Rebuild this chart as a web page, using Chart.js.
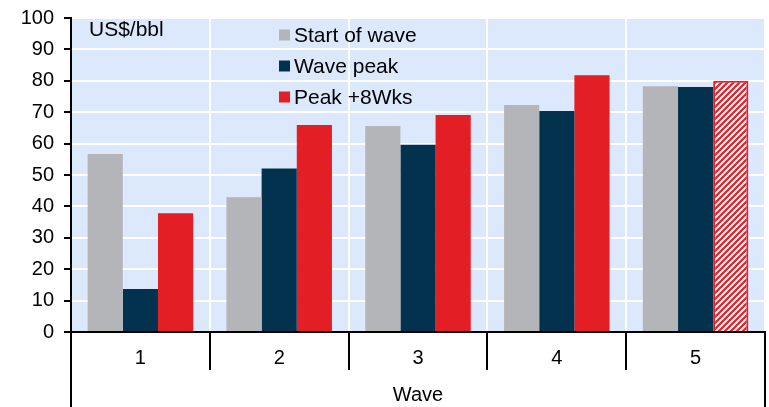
<!DOCTYPE html>
<html>
<head>
<meta charset="utf-8">
<script src="https://cdn.jsdelivr.net/npm/chart.js@4"></script>
<style>
  html, body { margin: 0; padding: 0; background: #ffffff; }
  #wrap { width: 769px; height: 407px; }
</style>
</head>
<body>
<div id="wrap"><canvas id="c" width="769" height="407"></canvas></div>
<script>
const categories = ['1', '2', '3', '4', '5'];
const startOfWave = [56.7, 42.9, 65.6, 72.3, 78.3];
const wavePeak = [13.7, 52.1, 59.6, 70.4, 78.0];
const peakPlus8 = [37.8, 65.9, 69.1, 81.8, 80.0];
const seriesLabels = ['Start of wave', 'Wave peak', 'Peak +8Wks'];
const yTicks = [0, 10, 20, 30, 40, 50, 60, 70, 80, 90, 100];
const unitLabel = 'US$/bbl';
const xTitle = 'Wave';

const FONT = "'Liberation Sans', Arial, sans-serif";
const GRAY = '#b4b5b9', NAVY = '#02324e', RED = '#e31e25';

function hatch() {
  const p = document.createElement('canvas');
  p.width = 6; p.height = 6;
  const g = p.getContext('2d');
  g.fillStyle = '#ffffff'; g.fillRect(0, 0, 6, 6);
  g.strokeStyle = RED; g.lineWidth = 2.2;
  g.beginPath();
  g.moveTo(-3, 9); g.lineTo(9, -3);
  g.moveTo(-3, 3); g.lineTo(3, -3);
  g.moveTo(3, 9); g.lineTo(9, 3);
  g.stroke();
  return g.createPattern(p, 'repeat');
}
const hatchPat = hatch();
const redFills = peakPlus8.map((v, i) => i === peakPlus8.length - 1 ? hatchPat : RED);
const redBorders = peakPlus8.map((v, i) => i === peakPlus8.length - 1 ? 2 : 0);

const decor = {
  id: 'decor',
  beforeDraw(chart) {
    const {ctx, chartArea: a} = chart;
    ctx.save();
    ctx.fillStyle = '#dce8fb';
    ctx.fillRect(a.left, a.top, a.right - a.left, a.bottom - a.top);
    ctx.restore();
  },
  afterDraw(chart) {
    const {ctx, chartArea: a} = chart;
    const xs = chart.scales.x;
    const n = categories.length;
    const w = (xs.right - xs.left) / n;
    ctx.save();
    ctx.strokeStyle = '#000000';
    ctx.lineWidth = 2;
    for (let i = 0; i <= n; i++) {
      const x = Math.round(xs.left + i * w);
      const end = (i === 0 || i === n) ? chart.height : a.bottom + 38;
      ctx.beginPath();
      ctx.moveTo(x, a.bottom);
      ctx.lineTo(x, end);
      ctx.stroke();
    }
    // unit label
    ctx.fillStyle = '#000000';
    ctx.font = '21px ' + FONT;
    ctx.textBaseline = 'middle';
    ctx.textAlign = 'left';
    ctx.fillText(unitLabel, a.left + 18, a.top + 12);
    // legend
    const colors = [GRAY, NAVY, RED];
    const lx = a.left + 208, ly = a.top + 17;
    for (let i = 0; i < seriesLabels.length; i++) {
      const cy = ly + i * 31;
      ctx.fillStyle = colors[i];
      ctx.fillRect(lx, cy - 5.5, 11, 11);
      ctx.fillStyle = '#000000';
      ctx.fillText(seriesLabels[i], lx + 15, cy + 1);
    }
    ctx.restore();
  }
};

new Chart(document.getElementById('c'), {
  type: 'bar',
  data: {
    labels: categories,
    datasets: [
      { label: seriesLabels[0], data: startOfWave, backgroundColor: GRAY },
      { label: seriesLabels[1], data: wavePeak, backgroundColor: NAVY },
      { label: seriesLabels[2], data: peakPlus8, backgroundColor: redFills, borderColor: RED, borderWidth: redBorders }
    ]
  },
  plugins: [decor],
  options: {
    responsive: false,
    animation: false,
    devicePixelRatio: 1,
    layout: { padding: { top: 18, right: 4, left: 0, bottom: 0 } },
    datasets: { bar: { categoryPercentage: 0.76, barPercentage: 1.0 } },
    plugins: { legend: { display: false }, tooltip: { enabled: false }, title: { display: false } },
    scales: {
      x: {
        afterFit(s) { s.height = 75; s.paddingLeft = 0; s.paddingRight = 0; },
        grid: { offset: true, color: '#ffffff', lineWidth: 2, drawTicks: false },
        border: { display: true, color: '#000000', width: 2 },
        ticks: { color: '#000000', font: { family: FONT, size: 20 }, padding: 14, maxRotation: 0 },
        title: { display: true, text: xTitle, color: '#000000', font: { family: FONT, size: 20 }, padding: { top: 0, bottom: 0 } }
      },
      y: {
        min: 0, max: 100,
        afterFit(s) { s.width = 71; s.paddingTop = 0; s.paddingBottom = 0; },
        afterBuildTicks(s) { s.ticks = yTicks.map(v => ({ value: v })); },
        grid: { color: '#ffffff', lineWidth: 2, tickColor: '#000000', tickLength: 7, tickWidth: 2 },
        border: { display: true, color: '#000000', width: 2 },
        ticks: { color: '#000000', font: { family: FONT, size: 20 }, padding: 10 }
      }
    }
  }
});
</script>
</body>
</html>
